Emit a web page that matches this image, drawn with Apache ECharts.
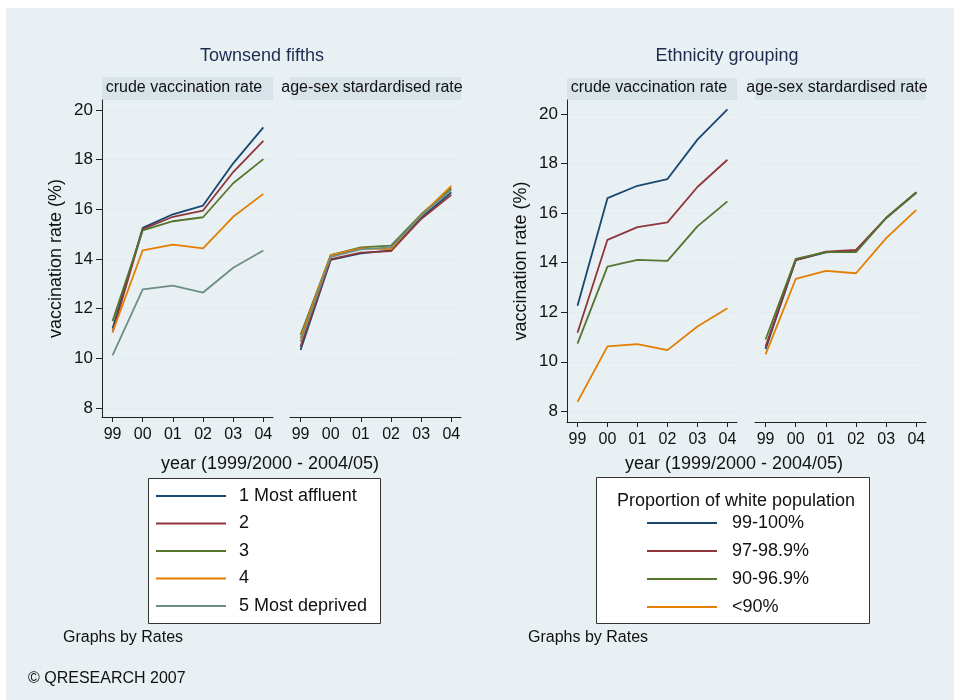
<!DOCTYPE html>
<html>
<head>
<meta charset="utf-8">
<script src="https://cdn.jsdelivr.net/npm/echarts@6/dist/echarts.min.js"></script>
<style>
  html, body { margin: 0; padding: 0; background: #ffffff; }
  #chart { width: 954px; height: 700px; }
</style>
</head>
<body>
<div id="chart"></div>
<script>
// Academic years (1999/2000 .. 2004/05), shown as two-digit labels
const years = ['99', '00', '01', '02', '03', '04'];
const yTicks = [8, 10, 12, 14, 16, 18, 20];

// Townsend deprivation fifths
const townsendNames = ['1 Most affluent', '2', '3', '4', '5 Most deprived'];
const townsendCrude = [
  [11.2, 15.25, 15.8, 16.15, 17.85, 19.3],
  [11.05, 15.2, 15.7, 15.95, 17.5, 18.75],
  [11.5, 15.15, 15.52, 15.68, 17.05, 18.02],
  [11.05, 14.35, 14.58, 14.43, 15.7, 16.62],
  [10.12, 12.78, 12.93, 12.65, 13.65, 14.34]
];
const townsendStd = [
  [10.34, 13.96, 14.23, 14.35, 15.66, 16.68],
  [10.47, 13.99, 14.26, 14.32, 15.61, 16.58],
  [10.94, 14.16, 14.47, 14.54, 15.8, 16.85],
  [10.81, 14.16, 14.43, 14.4, 15.77, 16.94],
  [10.67, 14.09, 14.39, 14.47, 15.74, 16.78]
];

// Proportion of white population in the practice area
const ethnicNames = ['99-100%', '97-98.9%', '90-96.9%', '<90%'];
const ethnicCrude = [
  [12.26, 16.6, 17.1, 17.37, 18.96, 20.18],
  [11.17, 14.92, 15.43, 15.62, 17.05, 18.15],
  [10.73, 13.84, 14.11, 14.07, 15.46, 16.47],
  [8.38, 10.62, 10.71, 10.47, 11.42, 12.16]
];
const ethnicStd = [
  [10.51, 14.1, 14.41, 14.47, 15.8, 16.83],
  [10.61, 14.1, 14.44, 14.51, 15.81, 16.83],
  [10.9, 14.15, 14.42, 14.42, 15.8, 16.84],
  [10.3, 13.34, 13.67, 13.57, 14.99, 16.13]
];

const lineColors = ['#1a476f', '#90353b', '#55752f', '#e37e00', '#6e8e84'];
const FONT = '"Liberation Sans", Arial, Helvetica, sans-serif';
const INK = '#111111';
const yearIdx = years.map((_, i) => i);

const chart = echarts.init(document.getElementById('chart'), null, { renderer: 'canvas' });

// Plot panels and their vertical ranges
const panels = [
  { left: 102, top: 100, width: 171, height: 317, yMin: 7.64, yMax: 20.40, labels: true },
  { left: 290, top: 100, width: 171, height: 317, yMin: 7.64, yMax: 20.40, labels: false },
  { left: 567, top: 100, width: 170, height: 322, yMin: 7.57, yMax: 20.56, labels: true },
  { left: 755, top: 100, width: 171, height: 322, yMin: 7.57, yMax: 20.56, labels: false }
];

const grids = panels.map(p => ({
  left: p.left, top: p.top, width: p.width, height: p.height,
  show: true, backgroundColor: '#ffffff', borderWidth: 0, containLabel: false
}));

const xAxes = panels.map((p, gi) => ({
  type: 'value', gridIndex: gi, min: -0.35, max: 5.32,
  axisLine: { show: true, onZero: false, lineStyle: { color: '#222', width: 1 } },
  axisTick: { show: true, length: 5, customValues: yearIdx, lineStyle: { color: '#222' } },
  axisLabel: {
    customValues: yearIdx, formatter: v => years[Math.round(v)],
    fontSize: 16, color: INK, fontFamily: FONT, margin: 10
  },
  splitLine: { show: false }
}));

const yAxes = panels.map((p, gi) => ({
  type: 'value', gridIndex: gi, min: p.yMin, max: p.yMax, position: 'left',
  name: p.labels ? 'vaccination rate (%)' : '',
  nameLocation: 'middle', nameGap: 37,
  nameTextStyle: { fontSize: 18, color: INK, fontFamily: FONT },
  axisLine: { show: p.labels, onZero: false, lineStyle: { color: '#222', width: 1 } },
  axisTick: { show: p.labels, length: 6, customValues: yTicks, lineStyle: { color: '#222' } },
  axisLabel: { show: p.labels, customValues: yTicks, fontSize: 17, color: INK, fontFamily: FONT, margin: 9 },
  splitLine: { show: true, lineStyle: { color: '#e2ebef', width: 1 } }
}));

function makeSeries(names, rows, gi) {
  return rows.map((vals, k) => ({
    type: 'line', name: names[k], xAxisIndex: gi, yAxisIndex: gi,
    data: vals.map((v, i) => [i, v]),
    showSymbol: false, symbol: 'none',
    lineStyle: { color: lineColors[k], width: 1.8 },
    itemStyle: { color: lineColors[k] },
    emphasis: { disabled: true }, z: 2
  }));
}

const series = [
  ...makeSeries(townsendNames, townsendCrude, 0),
  ...makeSeries(townsendNames, townsendStd, 1),
  ...makeSeries(ethnicNames, ethnicCrude, 2),
  ...makeSeries(ethnicNames, ethnicStd, 3)
];

function txt(text, x, y, size, color, align) {
  return {
    type: 'text', x: x, y: y, z: 10,
    style: {
      text: text, fill: color || INK, fontSize: size, fontFamily: FONT,
      align: align || 'center', verticalAlign: 'middle'
    }
  };
}
function box(x, y, w, h, fill, stroke) {
  return {
    type: 'rect', z: 0,
    shape: { x: x, y: y, width: w, height: h },
    style: { fill: fill, stroke: stroke || null, lineWidth: stroke ? 1 : 0 }
  };
}

const STRIP = '#d9e4ea';
const graphics = [
  // graph region
  box(6, 8, 948, 692, '#e8f0f3'),
  // panel strips
  box(102, 77, 171, 23, STRIP),
  box(290, 77, 171, 23, STRIP),
  box(567, 78, 170, 22, STRIP),
  box(755, 78, 171, 22, STRIP),
  txt('crude vaccination rate', 184, 88, 16),
  txt('age-sex stardardised rate', 372, 88, 16),
  txt('crude vaccination rate', 649, 88, 16),
  txt('age-sex stardardised rate', 837, 88, 16),
  // group titles
  txt('Townsend fifths', 262, 56, 18, '#1c2b4e'),
  txt('Ethnicity grouping', 727, 56, 18, '#1c2b4e'),
  // x axis titles
  txt('year (1999/2000 - 2004/05)', 270, 464, 18),
  txt('year (1999/2000 - 2004/05)', 734, 464, 18),
  // legend boxes
  box(148.5, 478.5, 232, 145, '#ffffff', '#333333'),
  box(596.5, 477.5, 273, 146, '#ffffff', '#333333'),
  txt('Proportion of white population', 736, 501, 18),
  // notes
  txt('Graphs by Rates', 63, 638, 16, INK, 'left'),
  txt('Graphs by Rates', 528, 638, 16, INK, 'left'),
  txt('\u00a9 QRESEARCH 2007', 28, 679, 16, INK, 'left')
];

const option = {
  animation: false,
  backgroundColor: '#ffffff',
  textStyle: { fontFamily: FONT },
  grid: grids,
  xAxis: xAxes,
  yAxis: yAxes,
  legend: [
    {
      data: townsendNames, left: 156, top: 487, orient: 'vertical', padding: 0,
      icon: 'rect', itemWidth: 70, itemHeight: 2, itemGap: 9.5, selectedMode: false,
      textStyle: { fontSize: 18, color: INK, fontFamily: FONT, lineHeight: 18, padding: [0, 0, 0, 8] },
      z: 20
    },
    {
      data: ethnicNames, left: 647, top: 514, orient: 'vertical', padding: 0,
      icon: 'rect', itemWidth: 70, itemHeight: 2, itemGap: 10, selectedMode: false,
      textStyle: { fontSize: 18, color: INK, fontFamily: FONT, lineHeight: 18, padding: [0, 0, 0, 10] },
      z: 20
    }
  ],
  graphic: { elements: graphics },
  series: series
};

chart.setOption(option);
</script>
</body>
</html>
